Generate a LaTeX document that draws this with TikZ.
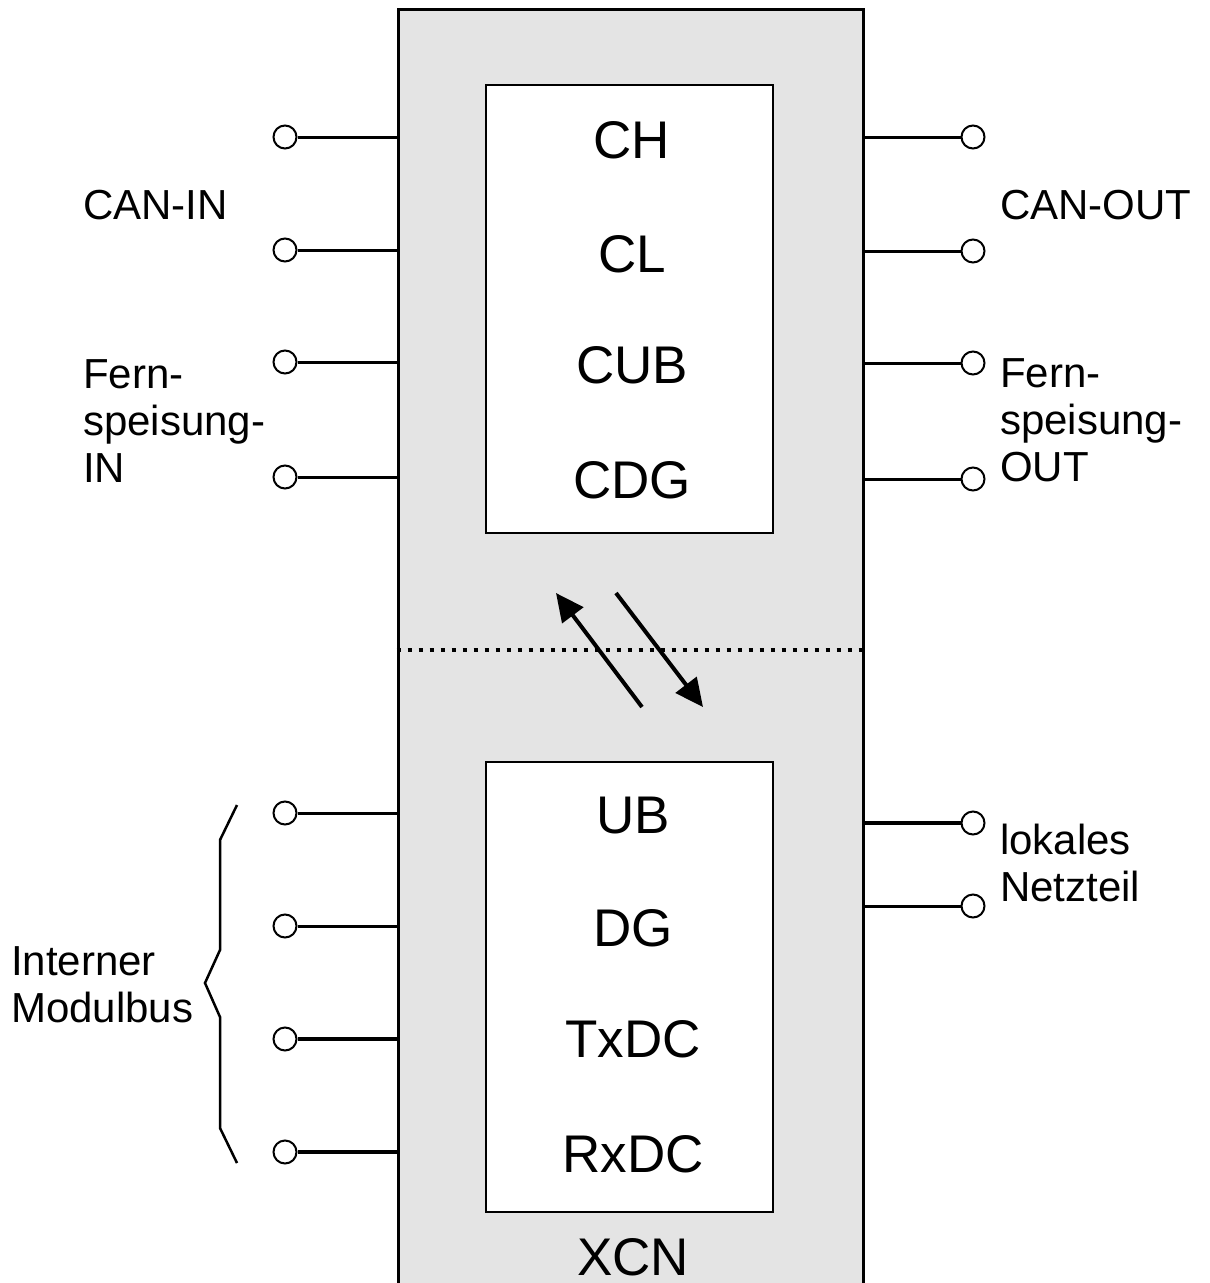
\documentclass[tikz,border=0pt]{standalone}
\usepackage{fontspec}
\setmainfont{Liberation Sans}
\usetikzlibrary{arrows.meta}
\definecolor{boxgray}{RGB}{228,228,228}

\begin{document}
\begin{tikzpicture}[x=1pt, y=-1pt,
  outer/.style={draw, line width=3pt, fill=boxgray, minimum width=465pt, minimum height=1282pt, inner sep=0},
  inner/.style={draw, line width=1.8pt, fill=white, minimum width=287pt, inner sep=0},
  term/.style={circle, draw, line width=2pt, fill=white, minimum size=23pt, inner sep=0},
  wire/.style={line width=3pt},
  sig/.style={font=\fontsize{53}{60}\selectfont, anchor=base, inner sep=0},
  lab/.style={font=\fontsize{42}{47}\selectfont, align=left, anchor=base west, inner sep=0},
  flow/.style={line width=4pt, -{Triangle[length=28pt,width=26pt]}}]
 \useasboundingbox (0,0) rectangle (1210,1283);
 \clip (0,0) rectangle (1210,1283);

 %module:
 \node[outer] (xcn) at (630.5,650) {};
 \node[inner, minimum height=448pt] (can) at (629.5,309) {};
 \node[inner, minimum height=450pt] (bus) at (629.5,987) {};
 \draw[line width=3.5pt, dash pattern=on 4pt off 7pt] (xcn.west) -- (xcn.east);

 %signals
 \node[sig] (ch) at (632,158) {CH};
 \node[sig] (cl) at (632,272) {CL};
 \node[sig] (cub) at (632,383) {CUB};
 \node[sig] (cdg) at (632,498) {CDG};
 \node[sig] (ub) at (633,833) {UB};
 \node[sig] (dg) at (633,946) {DG};
 \node[sig] (txdc) at (633,1057) {TxDC};
 \node[sig] (rxdc) at (633,1172) {RxDC};
 \node[sig] (name) at (633,1275) {XCN};

 %terminals left
 \node[term] (li1) at (285,137) {};
 \node[term] (li2) at (285,250) {};
 \node[term] (li3) at (285,362) {};
 \node[term] (li4) at (285,477) {};
 \node[term] (lb1) at (285,813) {};
 \node[term] (lb2) at (285,926) {};
 \node[term] (lb3) at (285,1039) {};
 \node[term] (lb4) at (285,1152) {};
 \draw[wire] (li1.east) -- (li1 -| xcn.west);
 \draw[wire] (li2.east) -- (li2 -| xcn.west);
 \draw[wire] (li3.east) -- (li3 -| xcn.west);
 \draw[wire] (li4.east) -- (li4 -| xcn.west);
 \draw[wire] (lb1.east) -- (lb1 -| xcn.west);
 \draw[wire] (lb2.east) -- (lb2 -| xcn.west);
 \draw[wire, line width=4pt] (lb3.east) -- (lb3 -| xcn.west);
 \draw[wire, line width=4pt] (lb4.east) -- (lb4 -| xcn.west);

 %terminals right
 \node[term] (ro1) at (973,137) {};
 \node[term] (ro2) at (973,251) {};
 \node[term] (ro3) at (973,363) {};
 \node[term] (ro4) at (973,479) {};
 \node[term] (rn1) at (973,823) {};
 \node[term] (rn2) at (973,906) {};
 \draw[wire] (ro1 -| xcn.east) -- (ro1.west);
 \draw[wire] (ro2 -| xcn.east) -- (ro2.west);
 \draw[wire] (ro3 -| xcn.east) -- (ro3.west);
 \draw[wire] (ro4 -| xcn.east) -- (ro4.west);
 \draw[wire, line width=4pt] (rn1 -| xcn.east) -- (rn1.west);
 \draw[wire] (rn2 -| xcn.east) -- (rn2.west);

 %labels (base = last line)
 \node[lab] (canin) at (83,219) {CAN-IN};
 \node[lab] (fsin) at (83,482) {Fern-\\speisung-\\IN};
 \node[lab] (canout) at (1000,219) {CAN-OUT};
 \node[lab] (fsout) at (1000,481) {Fern-\\speisung-\\OUT};
 \node[lab] (netz) at (1000,901) {lokales\\Netzteil};
 \node[lab] (modbus) at (11,1022) {Interner\\Modulbus};

 %brace
 \draw[line width=2.5pt] (237,805) -- (220,840) -- (220,950) -- (205,983) -- (220,1017) -- (220,1128) -- (237,1163);

 %data flow
 \coordinate (upS) at (642,707);
 \coordinate (upE) at (556,593);
 \coordinate (dnS) at (616,593);
 \coordinate (dnE) at (703,707);
 \draw[flow] (upS) -- (upE);
 \draw[flow] (dnS) -- (dnE);
\end{tikzpicture}
\end{document}
